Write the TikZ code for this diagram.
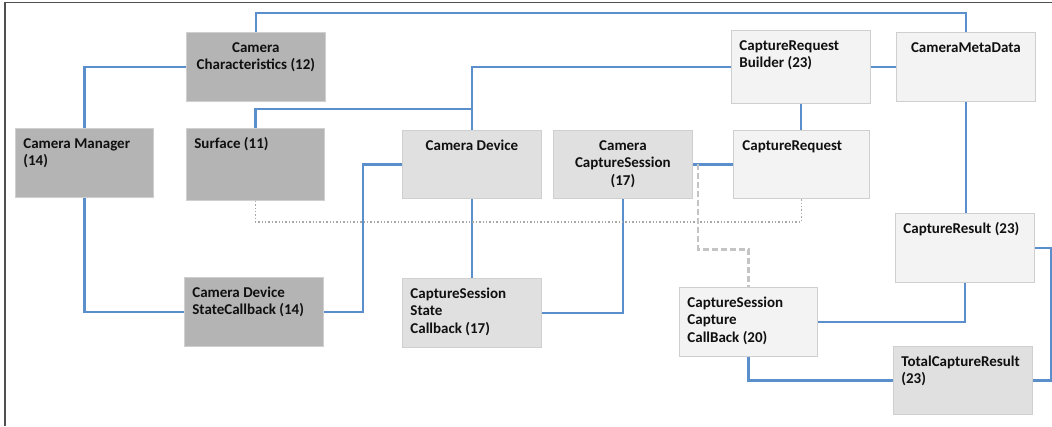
\documentclass[tikz,border=0pt]{standalone}
\usepackage{fontspec}
\setmainfont{Carlito}
\usetikzlibrary{calc,backgrounds}
\definecolor{dk}{HTML}{B4B4B4}
\definecolor{md}{HTML}{E0E0E0}
\definecolor{lt}{HTML}{F3F3F3}
\definecolor{edge}{HTML}{CFCFCF}
\definecolor{link}{HTML}{5B8FCB}
\definecolor{dotc}{HTML}{A8A8A8}
\definecolor{dashc}{HTML}{C4C4C4}
\definecolor{framec}{HTML}{505050}
\definecolor{txt}{HTML}{101010}
\newcommand\bxc[4]{\parbox[t][#2][t]{#1}{\vspace*{7.5pt}#3\strut#4}}
\newcommand\lft{\raggedright\leftskip=8pt\relax}
\begin{document}
\begin{tikzpicture}[x=1pt,y=-1pt,
  box/.style={draw=edge, line width=0.8pt, inner sep=0pt, anchor=north west,
    text=txt, font=\fontsize{15}{17.5}\selectfont\bfseries},
  link/.style={draw=link, line width=2.2pt},
  dotline/.style={draw=dotc, line width=1.4pt, dotted},
  dashline/.style={draw=dashc, line width=2.6pt, dash pattern=on 6pt off 3pt},
  framel/.style={draw=framec}]
\useasboundingbox (0,0) rectangle (1052,426);
\draw[framel, line width=2.4pt] (5,1.8) -- (5,426);
\draw[framel, line width=1.4pt] (4,2.5) -- (1052,2.5);

\node[box, fill=dk] (cc) at (186,32) {\bxc{139pt}{69pt}{\centering}{Camera\\Characteristics (12)}};
\node[box, fill=dk] (cm) at (15,128) {\bxc{138pt}{69pt}{\lft}{Camera Manager\\(14)}};
\node[box, fill=dk] (sf) at (186,128) {\bxc{138pt}{72pt}{\lft}{Surface (11)}};
\node[box, fill=md] (cd) at (402,130) {\bxc{139pt}{68pt}{\centering}{Camera Device}};
\node[box, fill=md] (ccs) at (553,130) {\bxc{139pt}{68pt}{\centering}{Camera\\CaptureSession\\(17)}};
\node[box, fill=lt] (crb) at (731,30) {\bxc{139pt}{73pt}{\lft}{CaptureRequest\\Builder (23)}};
\node[box, fill=lt] (cmd) at (896,32) {\bxc{139pt}{69pt}{\centering}{CameraMetaData}};
\node[box, fill=lt] (cr) at (733,130) {\bxc{136pt}{68pt}{\raggedright\leftskip=9pt\relax}{CaptureRequest}};
\node[box, fill=lt] (cres) at (895,213) {\bxc{139pt}{69pt}{\lft}{CaptureResult (23)}};
\node[box, fill=dk] (dsc) at (184,277) {\bxc{139pt}{69pt}{\lft}{Camera Device\\StateCallback (14)}};
\node[box, fill=md] (cssc) at (402,278) {\bxc{139pt}{69pt}{\lft}{CaptureSession\\State\\Callback (17)}};
\node[box, fill=lt] (cscc) at (679,287) {\bxc{138pt}{69pt}{\lft}{CaptureSession\\Capture\\CallBack (20)}};
\node[box, fill=md] (tcr) at (893,346) {\bxc{139pt}{68pt}{\lft}{TotalCaptureResult\\(23)}};

\coordinate (j) at ($(ccs.east)+(5,0)$);

\begin{pgfonlayer}{background}
\draw[link] (cm.north) |- (cc.west);
\draw[link] (cm.south) |- (dsc.west);
\draw[link] (cc.north) -- ++(0,-19) -| (cmd.north);
\draw[link] (sf.north) -- ++(0,-19) -| (cd.north);
\draw[link] (cd.north) |- (crb.west);
\draw[link] (crb.east) -- (cmd.west);
\draw[link] (crb.south) -- (crb.south |- cr.north);
\draw[link] (ccs.east) -- (cr.west);
\draw[link] (cd.west) -- ++(-39,0) |- (dsc.east);
\draw[link] (cd.south) -- (cssc.north);
\draw[link] (cssc.east) -| (ccs.south);
\draw[link] (cmd.south) -- (cmd.south |- cres.north);
\draw[link] (cres.south) |- (cscc.east);
\draw[link] (cscc.south) |- (tcr.west);
\draw[link] (cres.east) -- ++(16,0) |- (tcr.east);
\draw[dotline] (sf.south) -- ++(0,21) -| (cr.south);
\draw[dashline] (j) -- ++(0,85) -| (cscc.north);
\end{pgfonlayer}
\end{tikzpicture}
\end{document}
